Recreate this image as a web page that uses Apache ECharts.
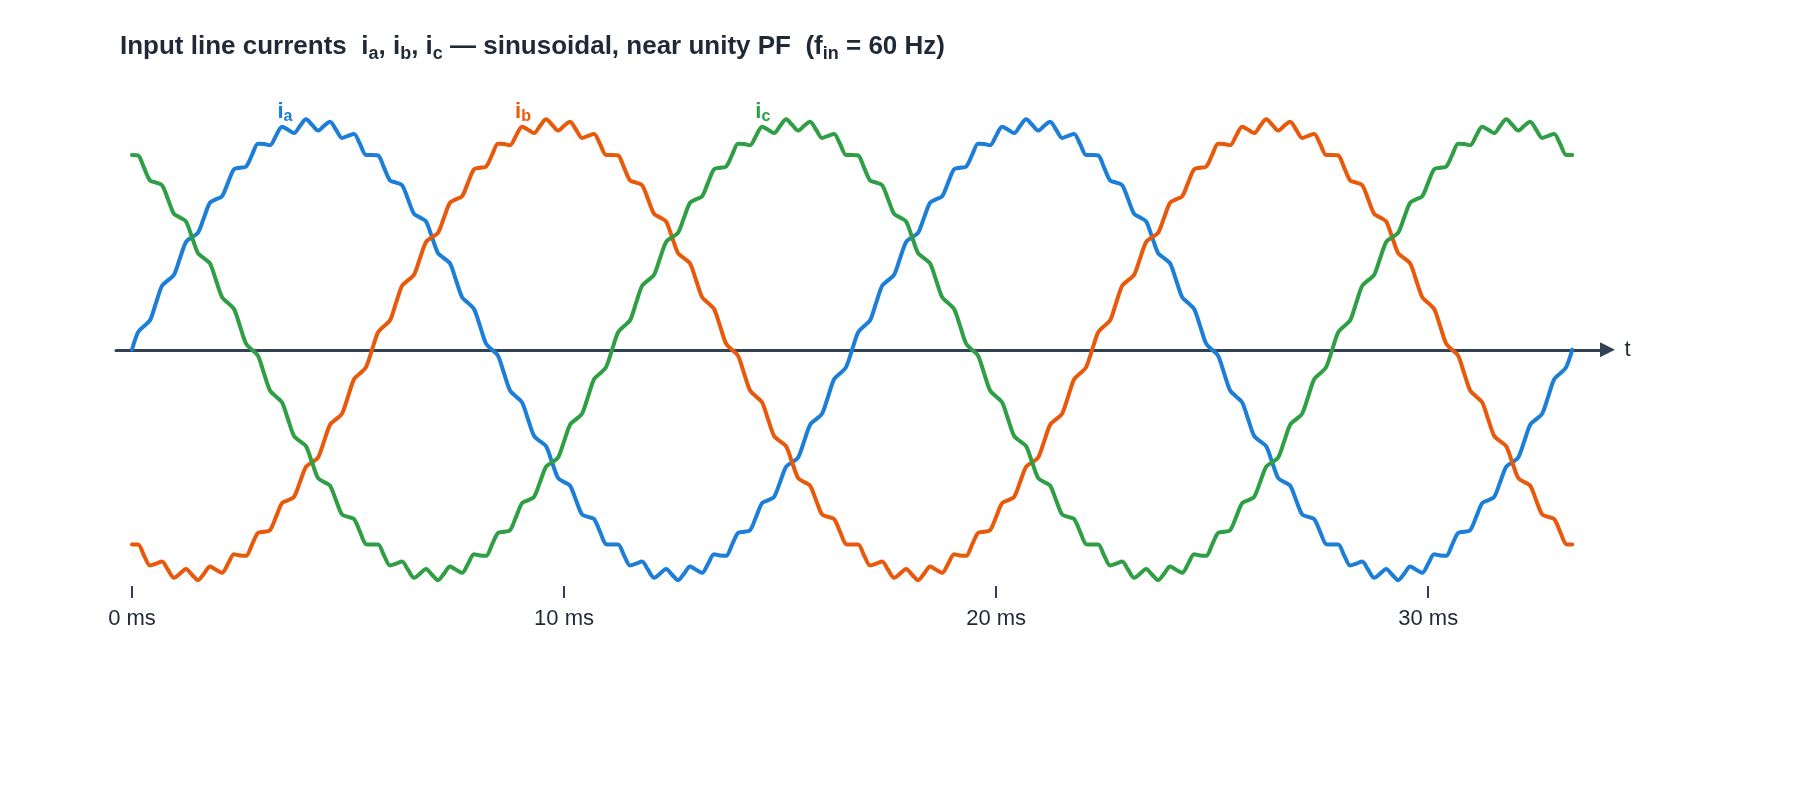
<!DOCTYPE html>
<html>
<head>
<meta charset="utf-8">
<title>Input line currents</title>
<script src="https://cdn.jsdelivr.net/npm/echarts@6.0.0/dist/echarts.min.js"></script>
<style>
  html, body { margin: 0; padding: 0; background: #ffffff; }
  #chart { width: 1800px; height: 800px; }
</style>
</head>
<body>
<div id="chart"></div>
<script>
// samples are taken every 1/120 of a 60 Hz period (0.139 ms), two periods shown
var sampleStepMs = 1000 / 60 / 120;

// per-unit line currents
var ia = [
  0, 0.077, 0.105, 0.131, 0.208, 0.284, 0.309, 0.333, 0.407, 0.479, 0.5, 0.52, 0.588, 0.654, 0.669, 0.682, 0.743, 0.802, 0.809, 0.814,
  0.866, 0.916, 0.914, 0.909, 0.951, 0.991, 0.978, 0.963, 0.995, 1.024, 1, 0.974, 0.995, 1.013, 0.978, 0.941, 0.951, 0.959, 0.914, 0.866,
  0.866, 0.864, 0.809, 0.752, 0.743, 0.732, 0.669, 0.604, 0.588, 0.57, 0.5, 0.429, 0.407, 0.383, 0.309, 0.234, 0.208, 0.181, 0.105, 0.027,
  0, -0.027, -0.105, -0.181, -0.208, -0.234, -0.309, -0.383, -0.407, -0.429, -0.5, -0.57, -0.588, -0.604, -0.669, -0.732, -0.743, -0.752, -0.809, -0.864,
  -0.866, -0.866, -0.914, -0.959, -0.951, -0.941, -0.978, -1.013, -0.995, -0.974, -1, -1.024, -0.995, -0.963, -0.978, -0.991, -0.951, -0.909, -0.914, -0.916,
  -0.866, -0.814, -0.809, -0.802, -0.743, -0.682, -0.669, -0.654, -0.588, -0.52, -0.5, -0.479, -0.407, -0.333, -0.309, -0.284, -0.208, -0.131, -0.105, -0.077,
  0, 0.077, 0.105, 0.131, 0.208, 0.284, 0.309, 0.333, 0.407, 0.479, 0.5, 0.52, 0.588, 0.654, 0.669, 0.682, 0.743, 0.802, 0.809, 0.814,
  0.866, 0.916, 0.914, 0.909, 0.951, 0.991, 0.978, 0.963, 0.995, 1.024, 1, 0.974, 0.995, 1.013, 0.978, 0.941, 0.951, 0.959, 0.914, 0.866,
  0.866, 0.864, 0.809, 0.752, 0.743, 0.732, 0.669, 0.604, 0.588, 0.57, 0.5, 0.429, 0.407, 0.383, 0.309, 0.234, 0.208, 0.181, 0.105, 0.027,
  0, -0.027, -0.105, -0.181, -0.208, -0.234, -0.309, -0.383, -0.407, -0.429, -0.5, -0.57, -0.588, -0.604, -0.669, -0.732, -0.743, -0.752, -0.809, -0.864,
  -0.866, -0.866, -0.914, -0.959, -0.951, -0.941, -0.978, -1.013, -0.995, -0.974, -1, -1.024, -0.995, -0.963, -0.978, -0.991, -0.951, -0.909, -0.914, -0.916,
  -0.866, -0.814, -0.809, -0.802, -0.743, -0.682, -0.669, -0.654, -0.588, -0.52, -0.5, -0.479, -0.407, -0.333, -0.309, -0.284, -0.208, -0.131, -0.105, -0.077,
  0
];
var ib = [
  -0.866, -0.866, -0.914, -0.959, -0.951, -0.941, -0.978, -1.013, -0.995, -0.974, -1, -1.024, -0.995, -0.963, -0.978, -0.991, -0.951, -0.909, -0.914, -0.916,
  -0.866, -0.814, -0.809, -0.802, -0.743, -0.682, -0.669, -0.654, -0.588, -0.52, -0.5, -0.479, -0.407, -0.333, -0.309, -0.284, -0.208, -0.131, -0.105, -0.077,
  0, 0.077, 0.105, 0.131, 0.208, 0.284, 0.309, 0.333, 0.407, 0.479, 0.5, 0.52, 0.588, 0.654, 0.669, 0.682, 0.743, 0.802, 0.809, 0.814,
  0.866, 0.916, 0.914, 0.909, 0.951, 0.991, 0.978, 0.963, 0.995, 1.024, 1, 0.974, 0.995, 1.013, 0.978, 0.941, 0.951, 0.959, 0.914, 0.866,
  0.866, 0.864, 0.809, 0.752, 0.743, 0.732, 0.669, 0.604, 0.588, 0.57, 0.5, 0.429, 0.407, 0.383, 0.309, 0.234, 0.208, 0.181, 0.105, 0.027,
  0, -0.027, -0.105, -0.181, -0.208, -0.234, -0.309, -0.383, -0.407, -0.429, -0.5, -0.57, -0.588, -0.604, -0.669, -0.732, -0.743, -0.752, -0.809, -0.864,
  -0.866, -0.866, -0.914, -0.959, -0.951, -0.941, -0.978, -1.013, -0.995, -0.974, -1, -1.024, -0.995, -0.963, -0.978, -0.991, -0.951, -0.909, -0.914, -0.916,
  -0.866, -0.814, -0.809, -0.802, -0.743, -0.682, -0.669, -0.654, -0.588, -0.52, -0.5, -0.479, -0.407, -0.333, -0.309, -0.284, -0.208, -0.131, -0.105, -0.077,
  0, 0.077, 0.105, 0.131, 0.208, 0.284, 0.309, 0.333, 0.407, 0.479, 0.5, 0.52, 0.588, 0.654, 0.669, 0.682, 0.743, 0.802, 0.809, 0.814,
  0.866, 0.916, 0.914, 0.909, 0.951, 0.991, 0.978, 0.963, 0.995, 1.024, 1, 0.974, 0.995, 1.013, 0.978, 0.941, 0.951, 0.959, 0.914, 0.866,
  0.866, 0.864, 0.809, 0.752, 0.743, 0.732, 0.669, 0.604, 0.588, 0.57, 0.5, 0.429, 0.407, 0.383, 0.309, 0.234, 0.208, 0.181, 0.105, 0.027,
  0, -0.027, -0.105, -0.181, -0.208, -0.234, -0.309, -0.383, -0.407, -0.429, -0.5, -0.57, -0.588, -0.604, -0.669, -0.732, -0.743, -0.752, -0.809, -0.864,
  -0.866
];
var ic = [
  0.866, 0.864, 0.809, 0.752, 0.743, 0.732, 0.669, 0.604, 0.588, 0.57, 0.5, 0.429, 0.407, 0.383, 0.309, 0.234, 0.208, 0.181, 0.105, 0.027,
  0, -0.027, -0.105, -0.181, -0.208, -0.234, -0.309, -0.383, -0.407, -0.429, -0.5, -0.57, -0.588, -0.604, -0.669, -0.732, -0.743, -0.752, -0.809, -0.864,
  -0.866, -0.866, -0.914, -0.959, -0.951, -0.941, -0.978, -1.013, -0.995, -0.974, -1, -1.024, -0.995, -0.963, -0.978, -0.991, -0.951, -0.909, -0.914, -0.916,
  -0.866, -0.814, -0.809, -0.802, -0.743, -0.682, -0.669, -0.654, -0.588, -0.52, -0.5, -0.479, -0.407, -0.333, -0.309, -0.284, -0.208, -0.131, -0.105, -0.077,
  0, 0.077, 0.105, 0.131, 0.208, 0.284, 0.309, 0.333, 0.407, 0.479, 0.5, 0.52, 0.588, 0.654, 0.669, 0.682, 0.743, 0.802, 0.809, 0.814,
  0.866, 0.916, 0.914, 0.909, 0.951, 0.991, 0.978, 0.963, 0.995, 1.024, 1, 0.974, 0.995, 1.013, 0.978, 0.941, 0.951, 0.959, 0.914, 0.866,
  0.866, 0.864, 0.809, 0.752, 0.743, 0.732, 0.669, 0.604, 0.588, 0.57, 0.5, 0.429, 0.407, 0.383, 0.309, 0.234, 0.208, 0.181, 0.105, 0.027,
  0, -0.027, -0.105, -0.181, -0.208, -0.234, -0.309, -0.383, -0.407, -0.429, -0.5, -0.57, -0.588, -0.604, -0.669, -0.732, -0.743, -0.752, -0.809, -0.864,
  -0.866, -0.866, -0.914, -0.959, -0.951, -0.941, -0.978, -1.013, -0.995, -0.974, -1, -1.024, -0.995, -0.963, -0.978, -0.991, -0.951, -0.909, -0.914, -0.916,
  -0.866, -0.814, -0.809, -0.802, -0.743, -0.682, -0.669, -0.654, -0.588, -0.52, -0.5, -0.479, -0.407, -0.333, -0.309, -0.284, -0.208, -0.131, -0.105, -0.077,
  0, 0.077, 0.105, 0.131, 0.208, 0.284, 0.309, 0.333, 0.407, 0.479, 0.5, 0.52, 0.588, 0.654, 0.669, 0.682, 0.743, 0.802, 0.809, 0.814,
  0.866, 0.916, 0.914, 0.909, 0.951, 0.991, 0.978, 0.963, 0.995, 1.024, 1, 0.974, 0.995, 1.013, 0.978, 0.941, 0.951, 0.959, 0.914, 0.866,
  0.866
];

var tickTimes = [0, 10, 20, 30];          // ms
var phaseNames = ['a', 'b', 'c'];
var labelTimes = [3.54, 9.05, 14.6];     // ms, where the i_x tags sit
var labelLevel = 1.058;                  // p.u.

var fontFamily = '"Liberation Sans", Arial, Helvetica, sans-serif';
var inkColor = '#1f2937';
var axisColor = '#334155';
var phaseColors = ['#1c7ed6', '#e8590c', '#2f9e44'];

function toPoints(values) {
    return values.map(function (v, i) {
        return [i * sampleStepMs, v];
    });
}

var chart = echarts.init(document.getElementById('chart'), null, { renderer: 'canvas' });

var seriesList = [ia, ib, ic].map(function (values, i) {
    var c = phaseColors[i];
    return {
        name: 'i' + phaseNames[i],
        type: 'line',
        data: toPoints(values),
        smooth: 0.3,
        showSymbol: false,
        symbol: 'none',
        lineStyle: { color: c, width: 4, cap: 'round', join: 'round' },
        itemStyle: { color: c },
        emphasis: { disabled: true },
        markPoint: {
            silent: true,
            symbol: 'circle',
            symbolSize: 0,
            label: {
                show: true,
                position: 'inside',
                formatter: '{m|i}{s|' + phaseNames[i] + '}',
                rich: {
                    m: { fontFamily: fontFamily, fontSize: 22, fontWeight: 'bold', color: c, lineHeight: 26 },
                    s: { fontFamily: fontFamily, fontSize: 16, fontWeight: 'bold', color: c, lineHeight: 8, verticalAlign: 'bottom' }
                }
            },
            data: [{ coord: [labelTimes[i], labelLevel] }]
        }
    };
});

var titleRich = {
    m: { fontFamily: fontFamily, fontSize: 26, fontWeight: 'bold', color: inkColor, lineHeight: 32 },
    s: { fontFamily: fontFamily, fontSize: 18, fontWeight: 'bold', color: inkColor, lineHeight: 10, verticalAlign: 'bottom' }
};

chart.setOption({
    animation: false,
    backgroundColor: '#ffffff',
    title: {
        text: '{m|Input line currents  i}{s|a}{m|, i}{s|b}{m|, i}{s|c}{m| \u2014 sinusoidal, near unity PF  (f}{s|in}{m| = 60 Hz)}',
        left: 120,
        top: 31,
        padding: 0,
        textStyle: { rich: titleRich }
    },
    grid: { left: 116, right: 192.5, top: 109, bottom: 214 },
    xAxis: [
        {
            type: 'value',
            min: -0.37,
            max: 34.15,
            position: 'bottom',
            axisLine: { show: false, onZero: false },
            axisTick: {
                show: true,
                customValues: tickTimes,
                length: 12,
                lineStyle: { color: axisColor, width: 2 }
            },
            axisLabel: {
                show: true,
                customValues: tickTimes,
                formatter: '{value} ms',
                margin: 22,
                fontSize: 22,
                fontFamily: fontFamily,
                color: inkColor
            },
            splitLine: { show: false }
        },
        {
            type: 'value',
            min: -0.37,
            max: 34.15,
            name: 't',
            nameLocation: 'end',
            nameGap: 17,
            nameTextStyle: { fontSize: 22, fontFamily: fontFamily, color: inkColor },
            axisLine: {
                show: true,
                onZero: true,
                symbol: ['none', 'triangle'],
                symbolSize: [15, 15],
                lineStyle: { color: axisColor, width: 3 }
            },
            axisTick: { show: false },
            axisLabel: { show: false },
            splitLine: { show: false }
        }
    ],
    yAxis: {
        type: 'value',
        min: -1.05,
        max: 1.07,
        show: false,
        splitLine: { show: false }
    },
    series: seriesList
});
</script>
</body>
</html>
